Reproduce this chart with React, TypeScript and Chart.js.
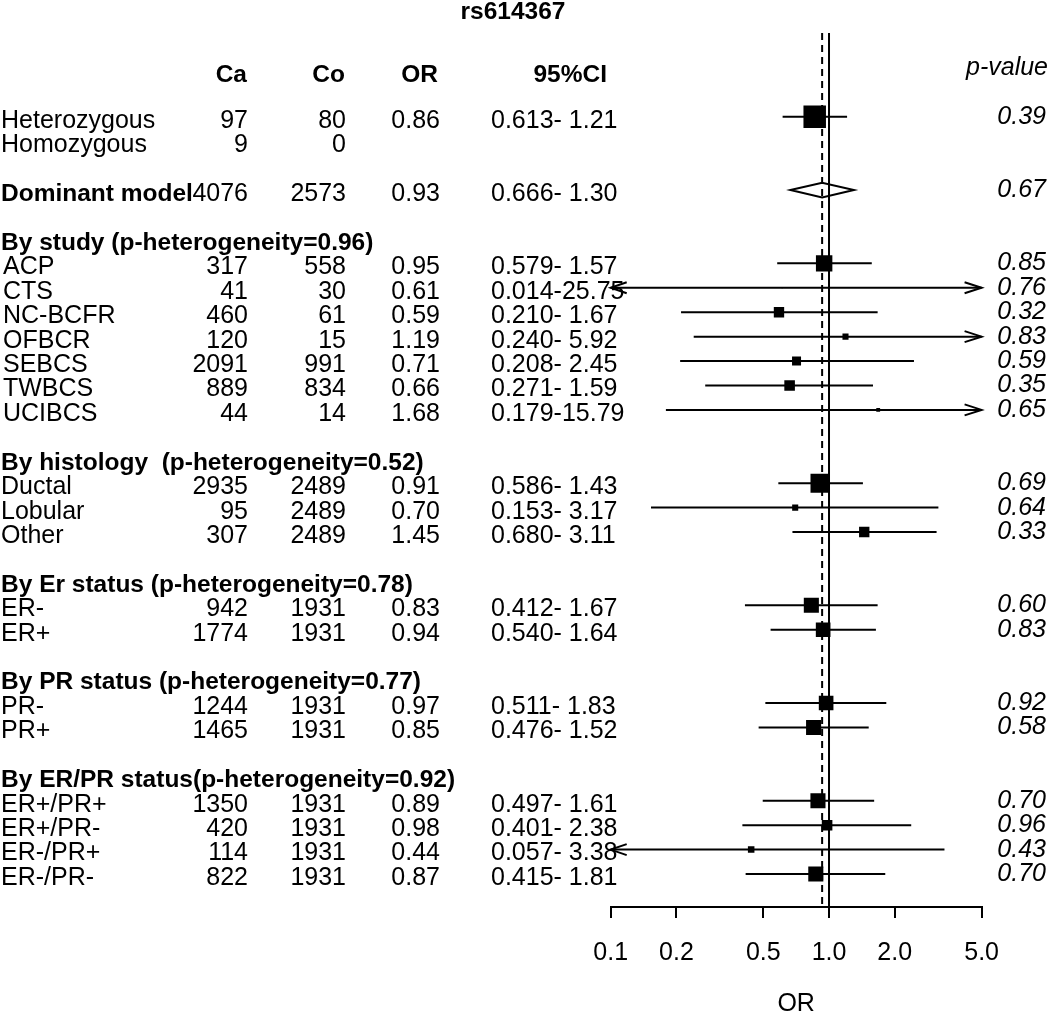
import { useEffect, useRef } from "react";
import { Chart, registerables } from "chart.js";

Chart.register(...registerables);

const FONT = "'Liberation Sans', Arial, Helvetica, sans-serif";

const chartTitle = "rs614367";
const columnHeaders = ["Ca", "Co", "OR", "95%CI"];
const pHeader = "p-value";
const axisTitle = "OR";

const rowLabels = [
  "Heterozygous", "Homozygous", "", "Dominant model", "",
  "By study (p-heterogeneity=0.96)",
  "ACP", "CTS", "NC-BCFR", "OFBCR", "SEBCS", "TWBCS", "UCIBCS", "",
  "By histology  (p-heterogeneity=0.52)",
  "Ductal", "Lobular", "Other", "",
  "By Er status (p-heterogeneity=0.78)",
  "ER-", "ER+", "",
  "By PR status (p-heterogeneity=0.77)",
  "PR-", "PR+", "",
  "By ER/PR status(p-heterogeneity=0.92)",
  "ER+/PR+", "ER+/PR-", "ER-/PR+", "ER-/PR-",
];
const boldRows = [3, 5, 14, 19, 23, 27];
const studyRows = [6, 7, 8, 9, 10, 11, 12];
const summaryRow = 3;

const caCounts = [97, 9, null, 4076, null, null, 317, 41, 460, 120, 2091, 889, 44, null, null, 2935, 95, 307, null, null, 942, 1774, null, null, 1244, 1465, null, null, 1350, 420, 114, 822];
const coCounts = [80, 0, null, 2573, null, null, 558, 30, 61, 15, 991, 834, 14, null, null, 2489, 2489, 2489, null, null, 1931, 1931, null, null, 1931, 1931, null, null, 1931, 1931, 1931, 1931];
const orValues = [0.86, null, null, 0.93, null, null, 0.95, 0.61, 0.59, 1.19, 0.71, 0.66, 1.68, null, null, 0.91, 0.70, 1.45, null, null, 0.83, 0.94, null, null, 0.97, 0.85, null, null, 0.89, 0.98, 0.44, 0.87];
const ciLower = [0.613, null, null, 0.666, null, null, 0.579, 0.014, 0.210, 0.240, 0.208, 0.271, 0.179, null, null, 0.586, 0.153, 0.680, null, null, 0.412, 0.540, null, null, 0.511, 0.476, null, null, 0.497, 0.401, 0.057, 0.415];
const ciUpper = [1.21, null, null, 1.30, null, null, 1.57, 25.75, 1.67, 5.92, 2.45, 1.59, 15.79, null, null, 1.43, 3.17, 3.11, null, null, 1.67, 1.64, null, null, 1.83, 1.52, null, null, 1.61, 2.38, 3.38, 1.81];
const pValues = [0.39, null, null, 0.67, null, null, 0.85, 0.76, 0.32, 0.83, 0.59, 0.35, 0.65, null, null, 0.69, 0.64, 0.33, null, null, 0.60, 0.83, null, null, 0.92, 0.58, null, null, 0.70, 0.96, 0.43, 0.70];
const boxWeights = [1.0, null, null, null, null, null, 0.73, 0.05, 0.46, 0.27, 0.40, 0.47, 0.17, null, null, 0.85, 0.27, 0.46, null, null, 0.67, 0.65, null, null, 0.65, 0.67, null, null, 0.67, 0.47, 0.29, 0.67];

const xTicks = [0.1, 0.2, 0.5, 1, 2, 5];
const xMin = 0.1;
const xMax = 5;
const refValue = 1;

const BOX_MAX = 22.5;

const forestPlugin = {
  id: "forest",
  beforeDraw(chart: any) {
    const { ctx, width, height } = chart;
    ctx.save();
    ctx.fillStyle = "#fff";
    ctx.fillRect(0, 0, width, height);
    ctx.restore();
  },
  beforeDatasetsDraw(chart: any) {
    const { ctx } = chart;
    const ys = chart.scales.y;
    ctx.save();
    ctx.fillStyle = "#000";
    ctx.textBaseline = "middle";
    // title
    ctx.font = `bold 24.5px ${FONT}`;
    ctx.textAlign = "center";
    ctx.fillText(chartTitle, 513, 12);
    // headers
    const hy = ys.getPixelForValue(-2) + 7;
    const headerX = [247, 345, 438, 607];
    ctx.textAlign = "right";
    columnHeaders.forEach((h, i) => ctx.fillText(h, headerX[i], hy));
    ctx.font = `italic 25px ${FONT}`;
    ctx.fillText(pHeader, 1048, ys.getPixelForValue(-2));

    rowLabels.forEach((lab, r) => {
      const ty = ys.getPixelForValue(r) + 4;
      ctx.font = boldRows.includes(r) ? `bold 24.5px ${FONT}` : `25px ${FONT}`;
      ctx.textAlign = "left";
      if (lab) ctx.fillText(lab, studyRows.includes(r) ? 3 : 1, ty);
      ctx.font = `25px ${FONT}`;
      ctx.textAlign = "right";
      if (caCounts[r] !== null) ctx.fillText(String(caCounts[r]), 248, ty);
      if (coCounts[r] !== null) ctx.fillText(String(coCounts[r]), 346, ty);
      const or = orValues[r];
      if (or !== null) ctx.fillText(or.toFixed(2), 440, ty);
      const lo = ciLower[r];
      const hi = ciUpper[r];
      if (lo !== null && hi !== null) {
        ctx.textAlign = "left";
        ctx.fillText(`${lo.toFixed(3)}-${hi.toFixed(2).padStart(5, " ")}`, 491, ty);
      }
      const p = pValues[r];
      if (p !== null) {
        ctx.font = `italic 25px ${FONT}`;
        ctx.textAlign = "right";
        ctx.fillText(p.toFixed(2), 1046, ys.getPixelForValue(r));
      }
    });
    ctx.restore();
  },
  afterDatasetsDraw(chart: any) {
    const { ctx, chartArea } = chart;
    const xs = chart.scales.x;
    const ys = chart.scales.y;
    ctx.save();
    ctx.strokeStyle = "#000";
    ctx.lineWidth = 2;
    // summary diamond
    const r = summaryRow;
    const dy = ys.getPixelForValue(r);
    const dl = xs.getPixelForValue(ciLower[r]);
    const dm = xs.getPixelForValue(orValues[r]);
    const dr = xs.getPixelForValue(ciUpper[r]);
    ctx.beginPath();
    ctx.moveTo(dl, dy);
    ctx.lineTo(dm, dy - 7.3);
    ctx.lineTo(dr, dy);
    ctx.lineTo(dm, dy + 7.3);
    ctx.closePath();
    ctx.fillStyle = "#fff";
    ctx.fill();
    ctx.stroke();
    // arrows for clipped intervals
    const xl = xs.getPixelForValue(xMin);
    const xr = xs.getPixelForValue(xMax);
    rowLabels.forEach((_, i) => {
      const lo = ciLower[i];
      const hi = ciUpper[i];
      if (lo === null || hi === null || i === summaryRow) return;
      const y = ys.getPixelForValue(i);
      if (lo < xMin) {
        ctx.beginPath();
        ctx.moveTo(xl + 16, y - 5.5);
        ctx.lineTo(xl, y);
        ctx.lineTo(xl + 16, y + 5.5);
        ctx.stroke();
      }
      if (hi > xMax) {
        ctx.beginPath();
        ctx.moveTo(xr - 17, y - 5.5);
        ctx.lineTo(xr, y);
        ctx.lineTo(xr - 17, y + 5.5);
        ctx.stroke();
      }
    });
    // reference lines
    const x1 = xs.getPixelForValue(refValue);
    ctx.beginPath();
    ctx.moveTo(x1, chartArea.top);
    ctx.lineTo(x1, chartArea.bottom);
    ctx.stroke();
    const x2 = xs.getPixelForValue(orValues[summaryRow]);
    ctx.setLineDash([7, 5]);
    ctx.beginPath();
    ctx.moveTo(x2, chartArea.top);
    ctx.lineTo(x2, chartArea.bottom);
    ctx.stroke();
    ctx.restore();
  },
};

export default function App() {
  const ref = useRef<HTMLCanvasElement | null>(null);
  useEffect(() => {
    if (!ref.current) return;
    Chart.defaults.font.family = FONT;
    Chart.defaults.color = "#000";

    const squarePoints: any[] = [];
    const ciPoints: any[] = [];
    rowLabels.forEach((_, r) => {
      const w = boxWeights[r];
      const or = orValues[r];
      if (w !== null && or !== null) squarePoints.push({ x: or, y: r, w });
      const lo = ciLower[r];
      const hi = ciUpper[r];
      if (lo !== null && hi !== null && r !== summaryRow) {
        ciPoints.push({ x: lo, y: r }, { x: hi, y: r }, { x: null, y: null });
      }
    });

    const chart = new Chart(ref.current, {
      type: "scatter",
      data: {
        datasets: [
          {
            label: "OR",
            data: squarePoints,
            pointStyle: "rect",
            pointRadius: (c: any) => ((c.raw?.w ?? 0) * BOX_MAX) / Math.SQRT2,
            backgroundColor: "#000",
            borderWidth: 0,
            order: 0,
          } as any,
          {
            label: "95% CI",
            data: ciPoints,
            showLine: true,
            spanGaps: false,
            borderColor: "#000",
            borderWidth: 2,
            pointRadius: 0,
            tension: 0,
            order: 1,
          } as any,
        ],
      },
      options: {
        responsive: false,
        animation: false,
        events: [],
        layout: { padding: { left: 610.7, right: 68.4, top: 33, bottom: 0 } },
        plugins: {
          legend: { display: false },
          tooltip: { enabled: false },
          title: { display: false },
        },
        scales: {
          x: {
            type: "logarithmic",
            min: xMin,
            max: xMax,
            position: "bottom",
            afterBuildTicks: (s: any) => {
              s.ticks = xTicks.map((v) => ({ value: v }));
            },
            afterFit: (s: any) => {
              s.height = 107;
            },
            ticks: {
              autoSkip: false,
              maxRotation: 0,
              minRotation: 0,
              color: "#000",
              font: { size: 25, family: FONT },
              padding: 20,
              callback: (v: any) => Number(v).toFixed(1),
            },
            grid: {
              drawOnChartArea: false,
              drawTicks: true,
              tickLength: 11,
              color: "#000",
              lineWidth: 2,
            },
            border: { display: true, color: "#000", width: 2 },
            title: {
              display: true,
              text: axisTitle,
              color: "#000",
              font: { size: 25, family: FONT, lineHeight: 1 },
              padding: { top: 0, bottom: -3 },
            },
          },
          y: {
            type: "linear",
            display: false,
            reverse: true,
            min: -3.43,
            max: 32.35,
          },
        },
      } as any,
      plugins: [forestPlugin],
    });
    return () => chart.destroy();
  }, []);

  return (
    <div style={{ position: "absolute", left: 0, top: 0, width: 1050, height: 1014 }}>
      <canvas ref={ref} width={1050} height={1014} style={{ display: "block" }} />
    </div>
  );
}
